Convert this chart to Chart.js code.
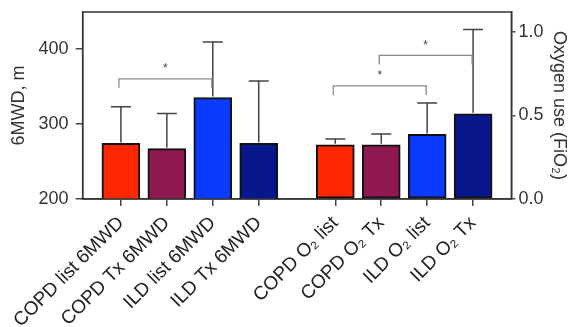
<!DOCTYPE html>
<html>
<head>
<meta charset="utf-8">
<script src="https://cdn.jsdelivr.net/npm/chart.js@4.4.1/dist/chart.umd.min.js"></script>
<style>
  html, body { margin: 0; padding: 0; background: #fff; }
  #wrap { width: 576px; height: 327px; }
</style>
</head>
<body>
<div id="wrap"><canvas id="walkChart" width="576" height="327"></canvas></div>
<script>
// categories (first four use the 6MWD axis, last four the oxygen axis)
const categories = ['COPD list 6MWD', 'COPD Tx 6MWD', 'ILD list 6MWD', 'ILD Tx 6MWD',
                    'COPD O\u2082 list', 'COPD O\u2082 Tx', 'ILD O\u2082 list', 'ILD O\u2082 Tx'];

// 6MWD, m : mean and top of error bar
const walkMean  = [274, 267, 335, 274];
const walkUpper = [323, 314, 409, 357];

// oxygen use (FiO2) : mean and top of error bar
const o2Mean  = [0.325, 0.325, 0.387, 0.51];
const o2Upper = [0.36, 0.39, 0.575, 1.015];

const walkTicks = [200, 300, 400];
const o2Ticks   = [0.0, 0.5, 1.0];

// significance brackets: [from bar, to bar, height]
const walkSig = [[0, 2, 360]];
const o2Sig   = [[0, 2, 0.677], [1, 3, 0.86]];

const colors = ['#ff2600', '#8f1a52', '#0a3bff', '#08188c'];

// each bar sits in the middle of three narrow slots, with a wider gap between groups
function slotOf(i) { return 2 + 3 * i + (i >= 4 ? 2 : 0); }
const nSlots = slotOf(categories.length - 1) + 3;
const slotLabels = new Array(nSlots).fill('');
categories.forEach((c, i) => { slotLabels[slotOf(i)] = c; });

function fillSlots(values, first) {
    const out = new Array(nSlots).fill(null);
    values.forEach((v, i) => { out[slotOf(first + i)] = v; });
    return out;
}
function colorSlots() {
    const out = new Array(nSlots).fill('rgba(0,0,0,0)');
    categories.forEach((c, i) => { out[slotOf(i)] = colors[i % 4]; });
    return out;
}

// draws the frame, error bars and significance brackets
const extras = {
    id: 'extras',
    afterDatasetsDraw(chart) {
        const ctx = chart.ctx;
        const a = chart.chartArea;
        const x = chart.scales.x;

        function errBars(scale, mean, upper, first) {
            ctx.strokeStyle = '#444';
            ctx.lineWidth = 1.5;
            mean.forEach((m, i) => {
                const cx = x.getPixelForValue(slotOf(first + i));
                const y0 = scale.getPixelForValue(m);
                const y1 = scale.getPixelForValue(upper[i]);
                ctx.beginPath();
                ctx.moveTo(cx, y0 - 1);
                ctx.lineTo(cx, y1);
                ctx.moveTo(cx - 10, y1);
                ctx.lineTo(cx + 10, y1);
                ctx.stroke();
            });
        }
        function brackets(scale, sig, first) {
            sig.forEach(s => {
                const xa = x.getPixelForValue(slotOf(first + s[0])) - 2;
                const xb = x.getPixelForValue(slotOf(first + s[1])) - 1;
                const y = scale.getPixelForValue(s[2]);
                ctx.strokeStyle = '#8a8a8a';
                ctx.lineWidth = 1.3;
                ctx.beginPath();
                ctx.moveTo(xa, y + 9);
                ctx.lineTo(xa, y);
                ctx.lineTo(xb, y);
                ctx.lineTo(xb, y + 9);
                ctx.stroke();
                ctx.fillStyle = '#444';
                ctx.font = '12px "Liberation Sans", Arial, sans-serif';
                ctx.textAlign = 'center';
                ctx.textBaseline = 'middle';
                ctx.fillText('*', (xa + xb) / 2, y - 10);
            });
        }

        ctx.save();
        errBars(chart.scales.yWalk, walkMean, walkUpper, 0);
        errBars(chart.scales.yO2, o2Mean, o2Upper, 4);
        brackets(chart.scales.yWalk, walkSig, 0);
        brackets(chart.scales.yO2, o2Sig, 4);
        ctx.strokeStyle = '#333';
        ctx.lineWidth = 1.5;
        ctx.strokeRect(a.left, a.top, a.right - a.left, a.bottom - a.top);
        ctx.restore();
    }
};

const font = '"Liberation Sans", Arial, Helvetica, sans-serif';
const noVertPad = s => { s.paddingTop = 0; s.paddingBottom = 0; };

new Chart(document.getElementById('walkChart'), {
    type: 'bar',
    data: {
        labels: slotLabels,
        datasets: [
            {
                label: '6MWD',
                data: fillSlots(walkMean, 0),
                yAxisID: 'yWalk',
                backgroundColor: colorSlots(),
                borderColor: '#111',
                borderWidth: 2,
                borderSkipped: false,
                barThickness: 38,
                grouped: false
            },
            {
                label: 'Oxygen',
                data: fillSlots(o2Mean, 4),
                yAxisID: 'yO2',
                backgroundColor: colorSlots(),
                borderColor: '#111',
                borderWidth: 2,
                borderSkipped: false,
                barThickness: 38,
                grouped: false
            }
        ]
    },
    options: {
        responsive: false,
        animation: false,
        layout: { padding: { left: 6, right: 4, top: 12, bottom: 0 } },
        plugins: { legend: { display: false }, tooltip: { enabled: false } },
        scales: {
            x: {
                type: 'category',
                offset: true,
                afterFit: s => { s.height = 128; },
                border: { display: true, color: '#444', width: 1.5 },
                grid: {
                    offset: false,
                    drawOnChartArea: false,
                    tickLength: 7,
                    lineWidth: 1.5,
                    color: c => (slotLabels[c.index] ? '#444' : 'rgba(0,0,0,0)')
                },
                ticks: {
                    autoSkip: false,
                    minRotation: 45,
                    maxRotation: 45,
                    padding: 6,
                    color: '#222',
                    font: { family: font, size: 19 }
                }
            },
            yWalk: {
                type: 'linear',
                position: 'left',
                min: 200,
                max: 449,
                afterBuildTicks: s => { s.ticks = walkTicks.map(v => ({ value: v })); },
                afterFit: noVertPad,
                border: { display: true, color: '#444', width: 1.5 },
                grid: { drawOnChartArea: false, tickLength: 7, lineWidth: 1.5, color: '#444' },
                ticks: { color: '#333', padding: 7, font: { family: font, size: 18 } },
                title: { display: true, text: '6MWD, m', color: '#333', padding: 2, font: { family: font, size: 18 } }
            },
            yO2: {
                type: 'linear',
                position: 'right',
                min: 0,
                max: 1.12,
                afterBuildTicks: s => { s.ticks = o2Ticks.map(v => ({ value: v })); },
                afterFit: noVertPad,
                border: { display: true, color: '#444', width: 1.5 },
                grid: { drawOnChartArea: false, tickLength: 4, lineWidth: 1.5, color: '#444' },
                ticks: { color: '#333', padding: 3, font: { family: font, size: 18 }, callback: v => v.toFixed(1) },
                title: { display: true, text: 'Oxygen use (FiO\u2082)', color: '#333', padding: 2, font: { family: font, size: 18 } }
            }
        }
    },
    plugins: [extras]
});
</script>
</body>
</html>
